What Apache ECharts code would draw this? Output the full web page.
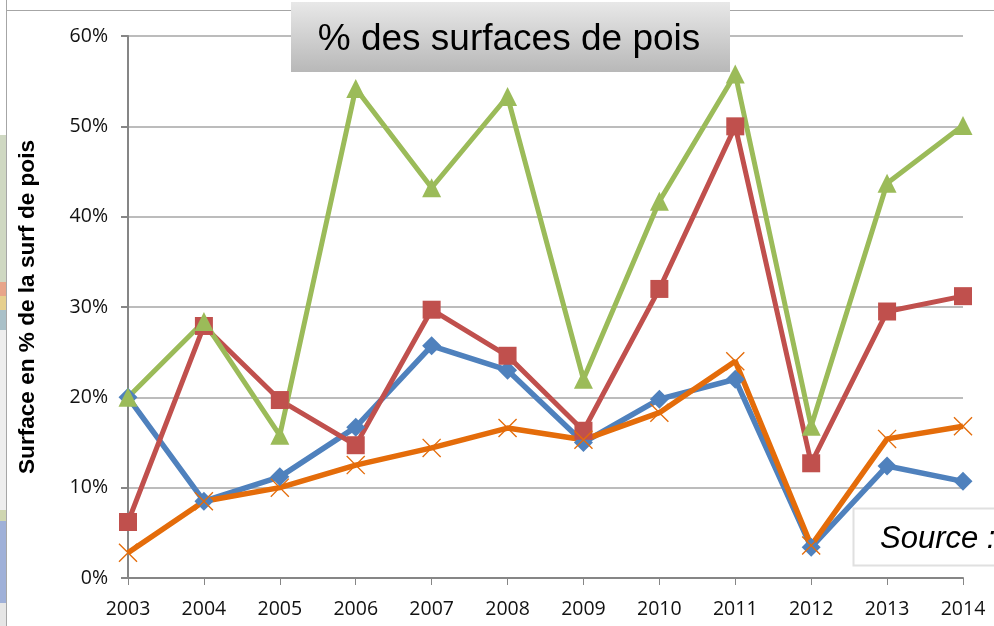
<!DOCTYPE html>
<html><head><meta charset="utf-8">
<style>html,body{margin:0;padding:0;background:#fff}#c{width:994px;height:626px}</style>
<script src="https://cdn.jsdelivr.net/npm/echarts@6/dist/echarts.min.js"></script>
</head><body><div id="c"></div>
<script>
const years=['2003','2004','2005','2006','2007','2008','2009','2010','2011','2012','2013','2014'];
const blue=[20,8.5,11.2,16.7,25.7,23,15,19.8,22,3.4,12.4,10.7];
const red=[6.2,27.9,19.7,14.7,29.7,24.6,16.3,32,50,12.7,29.5,31.2];
const green=[20,28.4,15.8,54.2,43.2,53.3,22,41.7,55.8,16.8,43.7,50.1];
const orange=[2.8,8.5,10,12.5,14.4,16.6,15.3,18.3,24,3.6,15.4,16.8];
const titleText='% des surfaces de pois';
const sourceText='Source :';
const yName='Surface en % de la surf de pois';
const cross='path://M1 0L10 9L19 0L20 1L11 10L20 19L19 20L10 11L1 20L0 19L9 10L0 1Z';
const mk=(name,data,color,symbol,size,w)=>({name,type:'line',data,symbol,symbolSize:size,showSymbol:true,
  lineStyle:{color,width:w},itemStyle:{color},emphasis:{disabled:true},animation:false,z:5});
const strip=[[135,147,'#cfd8c2'],[282,14,'#e8a58a'],[296,14,'#e6cf8e'],[310,20,'#a9c0c8'],[330,180,'#eeeeee'],[510,11,'#cfd6b0'],[521,82,'#9fb0d8'],[603,23,'#e6e6e6']];
const chart=echarts.init(document.getElementById('c'),null,{renderer:'canvas'});
chart.setOption({
  animation:false,
  grid:{left:128,right:31,top:36,bottom:48,containLabel:false},
  xAxis:{type:'category',data:years,boundaryGap:false,
    axisLine:{lineStyle:{color:'#868686',width:2}},
    axisTick:{show:true,length:7,lineStyle:{color:'#868686',width:1}},
    axisLabel:{color:'#111',fontFamily:'Open Sans',fontSize:19.5,margin:21,hideOverlap:false,interval:0},
    splitLine:{show:false}},
  yAxis:{type:'value',min:0,max:60,interval:10,
    name:yName,nameLocation:'middle',nameGap:89,nameRotate:90,
    nameTextStyle:{color:'#000',fontFamily:'Liberation Sans',fontWeight:'bold',fontSize:22.6},
    axisLine:{show:true,lineStyle:{color:'#868686',width:2}},
    axisTick:{show:true,length:7,lineStyle:{color:'#868686',width:2}},
    axisLabel:{color:'#111',fontFamily:'Open Sans',fontSize:19.5,margin:20,formatter:'{value}%',padding:[5,0,0,0]},
    splitLine:{show:true,lineStyle:{color:'#bcbcbc',width:2}}},
  series:[
    mk('Bleu',blue,'#4f81bd','diamond',19,5.5),
    mk('Rouge',red,'#c0504d','rect',18,5),
    mk('Vert',green,'#9bbb59','triangle',19,5),
    mk('Orange',orange,'#e46c0a',cross,19,5.5)
  ],
  graphic:[
    ...strip.map(([y,h,c])=>({type:'rect',z:1,silent:true,shape:{x:0,y,width:6,height:h},style:{fill:c}})),
    {type:'rect',z:1,silent:true,shape:{x:6,y:10,width:988,height:1},style:{fill:'#a6a6a6'}},
    {type:'rect',z:1,silent:true,shape:{x:6,y:0,width:1,height:626},style:{fill:'#a6a6a6'}},
    {type:'rect',z:3,silent:true,shape:{x:853.5,y:508.5,width:150,height:57},
      style:{fill:'#fff',stroke:'#e0e0e0',lineWidth:2}},
    {type:'text',z:4,silent:true,style:{x:880,y:539,text:sourceText,fill:'#000',
      font:'italic 31px "Liberation Sans"',textVerticalAlign:'middle'}},
    {type:'rect',z:20,silent:true,shape:{x:291,y:2,width:439,height:70},
      style:{fill:new echarts.graphic.LinearGradient(0,0,0,1,[{offset:0,color:'#e8e8e8'},{offset:1,color:'#b8b8b8'}])}},
    {type:'text',z:21,silent:true,style:{x:509,y:40,text:titleText,fill:'#000',
      font:'37px "Liberation Sans"',textAlign:'center',textVerticalAlign:'middle'}}
  ]
});
</script></body></html>
